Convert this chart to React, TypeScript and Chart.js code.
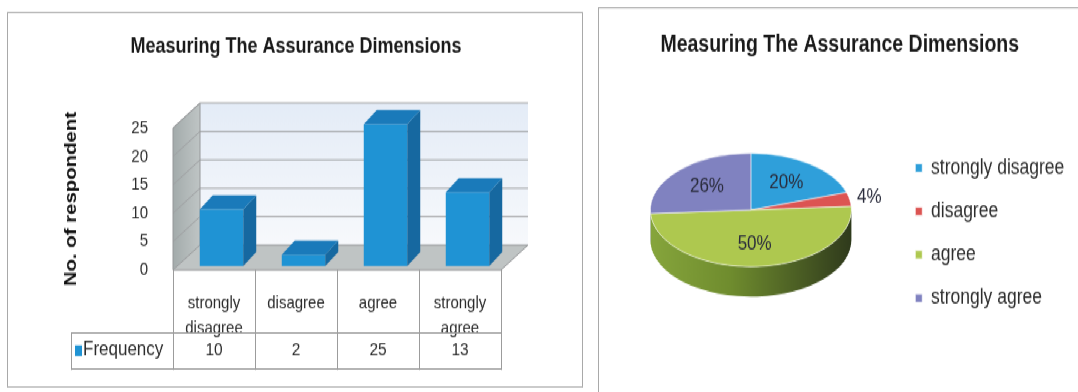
import React, { useEffect, useRef } from "react";
import { Chart, registerables } from "chart.js";

Chart.register(...registerables);

// ---------------- data ----------------
const chartTitle = "Measuring The Assurance Dimensions";
const yAxisTitle = "No. of respondent";
const seriesLabel = "Frequency";
const categories = ["strongly disagree", "disagree", "agree", "strongly agree"];
const frequency = [10, 2, 25, 13];
const yTickStep = 5;
const yMax = 25;

// ---------------- styles ----------------
const FONT = "'Liberation Sans', Arial, Helvetica, sans-serif";
const STRETCH = 1.2; // the scanned reference is stretched vertically
const TEXT = "#2c2c2c";
const BAR_FRONT = "#1f93d4";
const BAR_SIDE = "#1668a0";
const BAR_TOP = "#1a7aba";
const pieColors = ["#2f9fda", "#dc5452", "#aec84f", "#8082c0"];
const pieSideColors = ["#1f76a8", "#a33c3a", "#6f8c2e", "#5c5e98"];

const WALL_DX = 27;
const WALL_DY = -20.8;
const BAR_DX = 13;
const BAR_DY = -11.7;
const BAR_SHIFT_X = 7.5;
const BAR_SHIFT_Y = -3.3;
const TABLE_ROW_H = 31;
const TABLE_ROW_LEFT = 63;

const PIE_TILT = 0.47;
const PIE_DEPTH = 25;

const bar3dPlugin = {
  id: "bar3d",
  beforeDatasetsDraw(chart: any) {
    const { ctx, chartArea, scales } = chart;
    const L = chartArea.left, R = chartArea.right, T = chartArea.top, B = chartArea.bottom;
    const bL = L + WALL_DX, bR = R + WALL_DX, bT = T + WALL_DY, bB = B + WALL_DY;
    ctx.save();
    let g = ctx.createLinearGradient(0, bT, 0, bB);
    g.addColorStop(0, "#e4ecf7");
    g.addColorStop(1, "#f7f9fc");
    ctx.fillStyle = g;
    ctx.fillRect(bL, bT, bR - bL, bB - bT);
    ctx.beginPath();
    ctx.moveTo(L, T);
    ctx.lineTo(bL, bT);
    ctx.lineTo(bL, bB);
    ctx.lineTo(L, B);
    ctx.closePath();
    g = ctx.createLinearGradient(L, 0, bL, 0);
    g.addColorStop(0, "#a3abab");
    g.addColorStop(1, "#bfc5c5");
    ctx.fillStyle = g;
    ctx.fill();
    ctx.beginPath();
    ctx.moveTo(L, B);
    ctx.lineTo(R, B);
    ctx.lineTo(bR, bB);
    ctx.lineTo(bL, bB);
    ctx.closePath();
    ctx.fillStyle = "#bfc4c4";
    ctx.fill();
    ctx.strokeStyle = "#a0a2a4";
    ctx.lineWidth = 1;
    scales.y.ticks.forEach((t: any) => {
      if (t.value === 0) return;
      const py = scales.y.getPixelForValue(t.value);
      ctx.beginPath();
      ctx.moveTo(L, py);
      ctx.lineTo(bL, py + WALL_DY);
      ctx.lineTo(bR, py + WALL_DY);
      ctx.stroke();
    });
    ctx.strokeStyle = "#96989a";
    ctx.beginPath();
    ctx.moveTo(L, B);
    ctx.lineTo(L, T);
    ctx.lineTo(bL, bT);
    ctx.lineTo(bL, bB);
    ctx.lineTo(bR, bB);
    ctx.moveTo(L, B);
    ctx.lineTo(R, B);
    ctx.lineTo(bR, bB);
    ctx.moveTo(bL, bB);
    ctx.lineTo(L, B);
    ctx.stroke();
    ctx.restore();
    ctx.save();
    ctx.translate(BAR_SHIFT_X, BAR_SHIFT_Y);
  },
  afterDatasetsDraw(chart: any) {
    const { ctx } = chart;
    chart.getDatasetMeta(0).data.forEach((bar: any) => {
      const { x, y, base, width } = bar.getProps(["x", "y", "base", "width"], true);
      const l = x - width / 2, r = x + width / 2;
      ctx.beginPath();
      ctx.moveTo(r, y);
      ctx.lineTo(r + BAR_DX, y + BAR_DY);
      ctx.lineTo(r + BAR_DX, base + BAR_DY);
      ctx.lineTo(r, base);
      ctx.closePath();
      ctx.fillStyle = BAR_SIDE;
      ctx.fill();
      ctx.beginPath();
      ctx.moveTo(l, y);
      ctx.lineTo(l + BAR_DX, y + BAR_DY);
      ctx.lineTo(r + BAR_DX, y + BAR_DY);
      ctx.lineTo(r, y);
      ctx.closePath();
      ctx.fillStyle = BAR_TOP;
      ctx.fill();
    });
    ctx.restore();
  },
  afterDraw(chart: any) {
    const { ctx, scales } = chart;
    const xs = scales.x;
    const n = categories.length;
    const step = xs.getPixelForValue(1) - xs.getPixelForValue(0);
    const first = xs.getPixelForValue(0) - step / 2;
    const last = first + step * n;
    const top = xs.top;
    const bottom = xs.bottom;
    const rowTop = bottom - TABLE_ROW_H;
    ctx.save();
    ctx.strokeStyle = "#9c9c9c";
    ctx.lineWidth = 1;
    ctx.beginPath();
    for (let i = 0; i <= n; i++) {
      const bx = Math.round(first + i * step) + 0.5;
      ctx.moveTo(bx, top);
      ctx.lineTo(bx, bottom);
    }
    ctx.moveTo(TABLE_ROW_LEFT + 0.5, rowTop);
    ctx.lineTo(TABLE_ROW_LEFT + 0.5, bottom);
    ctx.moveTo(TABLE_ROW_LEFT, Math.round(rowTop) + 0.5);
    ctx.lineTo(last, Math.round(rowTop) + 0.5);
    ctx.moveTo(TABLE_ROW_LEFT, Math.round(bottom) - 0.5);
    ctx.lineTo(last, Math.round(bottom) - 0.5);
    ctx.stroke();
    const cy = (rowTop + bottom) / 2 - 1;
    ctx.fillStyle = TEXT;
    ctx.font = `15.5px ${FONT}`;
    ctx.textAlign = "center";
    ctx.textBaseline = "middle";
    chart.data.datasets[0].data.forEach((v: number, i: number) => {
      ctx.fillText(String(v), xs.getPixelForValue(i), cy);
    });
    ctx.fillStyle = BAR_FRONT;
    ctx.fillRect(TABLE_ROW_LEFT + 4, cy - 4, 7, 9);
    ctx.fillStyle = TEXT;
    ctx.textAlign = "left";
    ctx.font = `17px ${FONT}`;
    ctx.fillText(chart.data.datasets[0].label, TABLE_ROW_LEFT + 12, cy);
    ctx.restore();
  },
};

const pie3dPlugin = {
  id: "pie3d",
  beforeDatasetsDraw(chart: any) {
    const { ctx } = chart;
    const arcs = chart.getDatasetMeta(0).data;
    if (!arcs.length) return;
    const { x: cx, y: cy, outerRadius: r } = arcs[0].getProps(["x", "y", "outerRadius"], true);
    const ry = r * PIE_TILT;
    ctx.save();
    arcs.forEach((arc: any, i: number) => {
      const { startAngle, endAngle } = arc.getProps(["startAngle", "endAngle"], true);
      const a0 = Math.max(startAngle, 0);
      const a1 = Math.min(endAngle, Math.PI);
      if (a1 <= a0) return;
      ctx.beginPath();
      ctx.ellipse(cx, cy, r, ry, 0, a0, a1);
      ctx.ellipse(cx, cy + PIE_DEPTH, r, ry, 0, a1, a0, true);
      ctx.closePath();
      const g = ctx.createLinearGradient(cx - r, 0, cx + r, 0);
      g.addColorStop(0, "#86a53c");
      g.addColorStop(0.4, pieSideColors[i]);
      g.addColorStop(1, "#2f3a1c");
      ctx.fillStyle = i === 2 ? g : pieSideColors[i];
      ctx.fill();
    });
    ctx.restore();
    ctx.save();
    ctx.translate(cx, cy);
    ctx.scale(1, PIE_TILT);
    ctx.translate(-cx, -cy);
  },
  afterDatasetsDraw(chart: any) {
    const { ctx } = chart;
    ctx.restore();
    const arcs = chart.getDatasetMeta(0).data;
    const values: number[] = chart.data.datasets[0].data;
    const total = values.reduce((a, b) => a + b, 0);
    ctx.save();
    ctx.font = `17px ${FONT}`;
    ctx.fillStyle = "#2a2c3c";
    ctx.textAlign = "center";
    ctx.textBaseline = "middle";
    arcs.forEach((arc: any, i: number) => {
      const { x, y, startAngle, endAngle, outerRadius } = arc.getProps(
        ["x", "y", "startAngle", "endAngle", "outerRadius"],
        true
      );
      const frac = values[i] / total;
      const mid = (startAngle + endAngle) / 2;
      const f = frac < 0.05 ? 1.2 : 0.6;
      const px = x + Math.cos(mid) * outerRadius * f;
      const py = y + Math.sin(mid) * outerRadius * PIE_TILT * f;
      ctx.fillText(`${Math.round(frac * 100)}%`, px, py);
    });
    ctx.restore();
  },
};

export default function App() {
  const barRef = useRef<HTMLCanvasElement>(null);
  const pieRef = useRef<HTMLCanvasElement>(null);

  useEffect(() => {
    const bar = new Chart(barRef.current as HTMLCanvasElement, {
      type: "bar",
      data: {
        labels: categories,
        datasets: [
          {
            label: seriesLabel,
            data: frequency,
            backgroundColor: BAR_FRONT,
            borderWidth: 0,
            barPercentage: 0.53,
            categoryPercentage: 1,
            clip: false as any,
          },
        ],
      },
      options: {
        responsive: false,
        animation: false,
        devicePixelRatio: 1,
        layout: { padding: { left: 83, right: 81, top: 0, bottom: 13.7 } },
        plugins: {
          legend: { display: false },
          tooltip: { enabled: false },
          title: {
            display: true,
            text: chartTitle,
            color: "#1a1a1a",
            font: { family: FONT, size: 18, weight: "bold", lineHeight: 1.2 },
            padding: { top: 17.4, bottom: 56.7 },
          },
        },
        scales: {
          x: {
            grid: { display: false, drawTicks: false },
            border: { display: false },
            ticks: {
              padding: 16.75,
              color: TEXT,
              autoSkip: false,
              maxRotation: 0,
              font: { family: FONT, size: 15, lineHeight: 1.43 },
              callback: (_v: any, i: number) => {
                const s = categories[i];
                return s.includes(" ") ? s.split(" ") : s;
              },
            },
            afterFit: (s: any) => {
              s.height = 83.3;
            },
          },
          y: {
            min: 0,
            max: yMax,
            grid: { display: false, drawTicks: false },
            border: { display: false },
            ticks: {
              stepSize: yTickStep,
              padding: 25,
              color: TEXT,
              font: { family: FONT, size: 15 },
            },
            title: {
              display: true,
              text: yAxisTitle,
              color: "#111",
              font: { family: FONT, size: 17, weight: "bold", lineHeight: 1.2 },
              padding: { top: -30, bottom: 0 },
            },
            afterFit: (s: any) => {
              s.width = 82;
            },
          },
        },
      },
      plugins: [bar3dPlugin],
    } as any);

    const pie = new Chart(pieRef.current as HTMLCanvasElement, {
      type: "pie",
      data: {
        labels: categories,
        datasets: [
          {
            data: frequency,
            backgroundColor: pieColors,
            borderColor: "rgba(255,255,255,0.7)",
            borderWidth: 1,
          },
        ],
      },
      options: {
        responsive: false,
        animation: false,
        devicePixelRatio: 1,
        layout: { padding: { left: 6.2, right: 24.7, top: 0, bottom: 51 } },
        plugins: {
          tooltip: { enabled: false },
          title: {
            display: true,
            text: chartTitle,
            color: "#1a1a1a",
            font: { family: FONT, size: 19.5, weight: "bold", lineHeight: 1.2 },
            padding: { top: 19.1, bottom: 24.5 },
          },
          legend: {
            position: "right",
            align: "end",
            labels: {
              boxWidth: 7,
              boxHeight: 7,
              padding: 18.7,
              color: "#2e2e2e",
              font: { family: FONT, size: 17.5 },
            },
          },
        },
      },
      plugins: [pie3dPlugin],
    } as any);

    return () => {
      bar.destroy();
      pie.destroy();
    };
  }, []);

  return (
    <div
      style={{
        position: "absolute",
        left: 0,
        top: 0,
        width: 1078,
        height: 392 / STRETCH,
        transform: `scaleY(${STRETCH})`,
        transformOrigin: "0 0",
        overflow: "hidden",
        background: "#fff",
      }}
    >
      <div
        style={{
          position: "absolute",
          left: 7,
          top: 10,
          width: 576,
          height: 313,
          border: "1px solid #a9a9a9",
          boxSizing: "border-box",
        }}
      >
        <canvas ref={barRef} width={574} height={311} style={{ width: 574, height: 311, display: "block" }} />
      </div>
      <div
        style={{
          position: "absolute",
          left: 598,
          top: 6,
          width: 520,
          height: 330,
          border: "1px solid #a9a9a9",
          boxSizing: "border-box",
          overflow: "hidden",
        }}
      >
        <canvas ref={pieRef} width={500} height={320} style={{ width: 500, height: 320, display: "block" }} />
      </div>
    </div>
  );
}
